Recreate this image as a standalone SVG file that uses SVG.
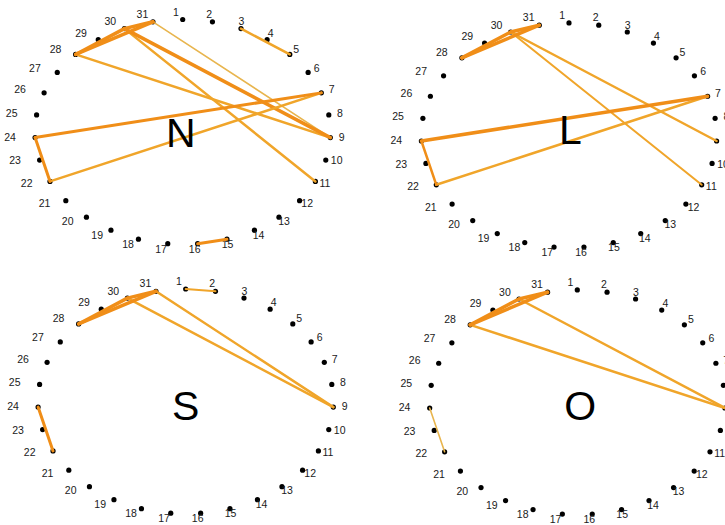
<svg xmlns="http://www.w3.org/2000/svg" width="725" height="525" viewBox="0 0 725 525">
<style>
circle{fill:#000}
text.l{font-family:"Liberation Sans",Arial,sans-serif;font-size:10.5px;text-anchor:middle;fill:#1a1a1a}
text.big{font-family:"Liberation Sans",Arial,sans-serif;font-size:41px;text-anchor:middle;fill:#000}
line{stroke-linecap:round;fill:none}
.t{stroke:#f08e18;stroke-width:3.5}
.m{stroke:#f0a52a;stroke-width:2.5}
.s{stroke:#e8b54e;stroke-width:1.6}
</style>
<rect width="725" height="525" fill="#fff"/>
<g id="nodes">
<g id="panel-N" transform="translate(182.7,131.9)">
<g id="N-1"><circle cx="0" cy="-112.4" r="2.6"/><text class="l" x="-6.9" y="-116.4">1</text></g>
<g id="N-2"><circle cx="29.75" cy="-110.1" r="2.6"/><text class="l" x="26.6" y="-114">2</text></g>
<g id="N-3"><circle cx="58.29" cy="-103.29" r="2.6"/><text class="l" x="58.7" y="-106.8">3</text></g>
<g id="N-4"><circle cx="84.43" cy="-92.25" r="2.6"/><text class="l" x="88" y="-95.1">4</text></g>
<g id="N-5"><circle cx="107.09" cy="-77.47" r="2.6"/><text class="l" x="113.5" y="-79.4">5</text></g>
<g id="N-6"><circle cx="125.43" cy="-59.46" r="2.6"/><text class="l" x="134.1" y="-60.4">6</text></g>
<g id="N-7"><circle cx="138.6" cy="-39.04" r="2.6"/><text class="l" x="148.9" y="-38.7">7</text></g>
<g id="N-8"><circle cx="146.1" cy="-17.02" r="2.6"/><text class="l" x="157.3" y="-15.4">8</text></g>
<g id="N-9"><circle cx="147.61" cy="5.69" r="2.6"/><text class="l" x="159" y="8.6">9</text></g>
<g id="N-10"><circle cx="143.08" cy="28.17" r="2.6"/><text class="l" x="154" y="32.4">10</text></g>
<g id="N-11"><circle cx="132.69" cy="49.5" r="2.6"/><text class="l" x="142.3" y="55">11</text></g>
<g id="N-12"><circle cx="116.88" cy="68.8" r="2.6"/><text class="l" x="124.5" y="75.4">12</text></g>
<g id="N-13"><circle cx="96.27" cy="85.28" r="2.6"/><text class="l" x="101.3" y="92.9">13</text></g>
<g id="N-14"><circle cx="71.73" cy="98.28" r="2.6"/><text class="l" x="75.8" y="106.7">14</text></g>
<g id="N-15"><circle cx="44.25" cy="107.25" r="2.6"/><text class="l" x="44.9" y="116.1">15</text></g>
<g id="N-16"><circle cx="14.95" cy="111.82" r="2.6"/><text class="l" x="12" y="121">16</text></g>
<g id="N-17"><circle cx="-14.95" cy="111.82" r="2.6"/><text class="l" x="-21.7" y="121">17</text></g>
<g id="N-18"><circle cx="-44.25" cy="107.25" r="2.6"/><text class="l" x="-54.6" y="116.1">18</text></g>
<g id="N-19"><circle cx="-71.73" cy="98.28" r="2.6"/><text class="l" x="-85.5" y="106.7">19</text></g>
<g id="N-20"><circle cx="-96.27" cy="85.28" r="2.6"/><text class="l" x="-115" y="92.9">20</text></g>
<g id="N-21"><circle cx="-116.88" cy="68.8" r="2.6"/><text class="l" x="-138.2" y="75.4">21</text></g>
<g id="N-22"><circle cx="-132.69" cy="49.5" r="2.6"/><text class="l" x="-156" y="55">22</text></g>
<g id="N-23"><circle cx="-143.08" cy="28.17" r="2.6"/><text class="l" x="-167.7" y="32.4">23</text></g>
<g id="N-24"><circle cx="-147.61" cy="5.69" r="2.6"/><text class="l" x="-172.7" y="8.6">24</text></g>
<g id="N-25"><circle cx="-146.1" cy="-17.02" r="2.6"/><text class="l" x="-171" y="-15.4">25</text></g>
<g id="N-26"><circle cx="-138.6" cy="-39.04" r="2.6"/><text class="l" x="-162.6" y="-38.7">26</text></g>
<g id="N-27"><circle cx="-125.43" cy="-59.46" r="2.6"/><text class="l" x="-147.8" y="-60.4">27</text></g>
<g id="N-28"><circle cx="-107.09" cy="-77.47" r="2.6"/><text class="l" x="-127.2" y="-79.4">28</text></g>
<g id="N-29"><circle cx="-84.43" cy="-92.25" r="2.6"/><text class="l" x="-101.7" y="-95.1">29</text></g>
<g id="N-30"><circle cx="-58.29" cy="-103.29" r="2.6"/><text class="l" x="-72.4" y="-106.8">30</text></g>
<g id="N-31"><circle cx="-29.75" cy="-110.1" r="2.6"/><text class="l" x="-40.3" y="-114">31</text></g>
</g>
<g id="panel-L" transform="translate(569,135.3)">
<g id="L-1"><circle cx="0" cy="-112.4" r="2.6"/><text class="l" x="-6.9" y="-116.4">1</text></g>
<g id="L-2"><circle cx="29.75" cy="-110.1" r="2.6"/><text class="l" x="26.6" y="-114">2</text></g>
<g id="L-3"><circle cx="58.29" cy="-103.29" r="2.6"/><text class="l" x="58.7" y="-106.8">3</text></g>
<g id="L-4"><circle cx="84.43" cy="-92.25" r="2.6"/><text class="l" x="88" y="-95.1">4</text></g>
<g id="L-5"><circle cx="107.09" cy="-77.47" r="2.6"/><text class="l" x="113.5" y="-79.4">5</text></g>
<g id="L-6"><circle cx="125.43" cy="-59.46" r="2.6"/><text class="l" x="134.1" y="-60.4">6</text></g>
<g id="L-7"><circle cx="138.6" cy="-39.04" r="2.6"/><text class="l" x="148.9" y="-38.7">7</text></g>
<g id="L-8"><circle cx="146.1" cy="-17.02" r="2.6"/><text class="l" x="157.3" y="-15.4">8</text></g>
<g id="L-9"><circle cx="147.61" cy="5.69" r="2.6"/><text class="l" x="159" y="8.6">9</text></g>
<g id="L-10"><circle cx="143.08" cy="28.17" r="2.6"/><text class="l" x="154" y="32.4">10</text></g>
<g id="L-11"><circle cx="132.69" cy="49.5" r="2.6"/><text class="l" x="142.3" y="55">11</text></g>
<g id="L-12"><circle cx="116.88" cy="68.8" r="2.6"/><text class="l" x="124.5" y="75.4">12</text></g>
<g id="L-13"><circle cx="96.27" cy="85.28" r="2.6"/><text class="l" x="101.3" y="92.9">13</text></g>
<g id="L-14"><circle cx="71.73" cy="98.28" r="2.6"/><text class="l" x="75.8" y="106.7">14</text></g>
<g id="L-15"><circle cx="44.25" cy="107.25" r="2.6"/><text class="l" x="44.9" y="116.1">15</text></g>
<g id="L-16"><circle cx="14.95" cy="111.82" r="2.6"/><text class="l" x="12" y="121">16</text></g>
<g id="L-17"><circle cx="-14.95" cy="111.82" r="2.6"/><text class="l" x="-21.7" y="121">17</text></g>
<g id="L-18"><circle cx="-44.25" cy="107.25" r="2.6"/><text class="l" x="-54.6" y="116.1">18</text></g>
<g id="L-19"><circle cx="-71.73" cy="98.28" r="2.6"/><text class="l" x="-85.5" y="106.7">19</text></g>
<g id="L-20"><circle cx="-96.27" cy="85.28" r="2.6"/><text class="l" x="-115" y="92.9">20</text></g>
<g id="L-21"><circle cx="-116.88" cy="68.8" r="2.6"/><text class="l" x="-138.2" y="75.4">21</text></g>
<g id="L-22"><circle cx="-132.69" cy="49.5" r="2.6"/><text class="l" x="-156" y="55">22</text></g>
<g id="L-23"><circle cx="-143.08" cy="28.17" r="2.6"/><text class="l" x="-167.7" y="32.4">23</text></g>
<g id="L-24"><circle cx="-147.61" cy="5.69" r="2.6"/><text class="l" x="-172.7" y="8.6">24</text></g>
<g id="L-25"><circle cx="-146.1" cy="-17.02" r="2.6"/><text class="l" x="-171" y="-15.4">25</text></g>
<g id="L-26"><circle cx="-138.6" cy="-39.04" r="2.6"/><text class="l" x="-162.6" y="-38.7">26</text></g>
<g id="L-27"><circle cx="-125.43" cy="-59.46" r="2.6"/><text class="l" x="-147.8" y="-60.4">27</text></g>
<g id="L-28"><circle cx="-107.09" cy="-77.47" r="2.6"/><text class="l" x="-127.2" y="-79.4">28</text></g>
<g id="L-29"><circle cx="-84.43" cy="-92.25" r="2.6"/><text class="l" x="-101.7" y="-95.1">29</text></g>
<g id="L-30"><circle cx="-58.29" cy="-103.29" r="2.6"/><text class="l" x="-72.4" y="-106.8">30</text></g>
<g id="L-31"><circle cx="-29.75" cy="-110.1" r="2.6"/><text class="l" x="-40.3" y="-114">31</text></g>
</g>
<g id="panel-S" transform="translate(185.7,401.4)">
<g id="S-1"><circle cx="0" cy="-112.4" r="2.6"/><text class="l" x="-6.9" y="-116.4">1</text></g>
<g id="S-2"><circle cx="29.75" cy="-110.1" r="2.6"/><text class="l" x="26.6" y="-114">2</text></g>
<g id="S-3"><circle cx="58.29" cy="-103.29" r="2.6"/><text class="l" x="58.7" y="-106.8">3</text></g>
<g id="S-4"><circle cx="84.43" cy="-92.25" r="2.6"/><text class="l" x="88" y="-95.1">4</text></g>
<g id="S-5"><circle cx="107.09" cy="-77.47" r="2.6"/><text class="l" x="113.5" y="-79.4">5</text></g>
<g id="S-6"><circle cx="125.43" cy="-59.46" r="2.6"/><text class="l" x="134.1" y="-60.4">6</text></g>
<g id="S-7"><circle cx="138.6" cy="-39.04" r="2.6"/><text class="l" x="148.9" y="-38.7">7</text></g>
<g id="S-8"><circle cx="146.1" cy="-17.02" r="2.6"/><text class="l" x="157.3" y="-15.4">8</text></g>
<g id="S-9"><circle cx="147.61" cy="5.69" r="2.6"/><text class="l" x="159" y="8.6">9</text></g>
<g id="S-10"><circle cx="143.08" cy="28.17" r="2.6"/><text class="l" x="154" y="32.4">10</text></g>
<g id="S-11"><circle cx="132.69" cy="49.5" r="2.6"/><text class="l" x="142.3" y="55">11</text></g>
<g id="S-12"><circle cx="116.88" cy="68.8" r="2.6"/><text class="l" x="124.5" y="75.4">12</text></g>
<g id="S-13"><circle cx="96.27" cy="85.28" r="2.6"/><text class="l" x="101.3" y="92.9">13</text></g>
<g id="S-14"><circle cx="71.73" cy="98.28" r="2.6"/><text class="l" x="75.8" y="106.7">14</text></g>
<g id="S-15"><circle cx="44.25" cy="107.25" r="2.6"/><text class="l" x="44.9" y="116.1">15</text></g>
<g id="S-16"><circle cx="14.95" cy="111.82" r="2.6"/><text class="l" x="12" y="121">16</text></g>
<g id="S-17"><circle cx="-14.95" cy="111.82" r="2.6"/><text class="l" x="-21.7" y="121">17</text></g>
<g id="S-18"><circle cx="-44.25" cy="107.25" r="2.6"/><text class="l" x="-54.6" y="116.1">18</text></g>
<g id="S-19"><circle cx="-71.73" cy="98.28" r="2.6"/><text class="l" x="-85.5" y="106.7">19</text></g>
<g id="S-20"><circle cx="-96.27" cy="85.28" r="2.6"/><text class="l" x="-115" y="92.9">20</text></g>
<g id="S-21"><circle cx="-116.88" cy="68.8" r="2.6"/><text class="l" x="-138.2" y="75.4">21</text></g>
<g id="S-22"><circle cx="-132.69" cy="49.5" r="2.6"/><text class="l" x="-156" y="55">22</text></g>
<g id="S-23"><circle cx="-143.08" cy="28.17" r="2.6"/><text class="l" x="-167.7" y="32.4">23</text></g>
<g id="S-24"><circle cx="-147.61" cy="5.69" r="2.6"/><text class="l" x="-172.7" y="8.6">24</text></g>
<g id="S-25"><circle cx="-146.1" cy="-17.02" r="2.6"/><text class="l" x="-171" y="-15.4">25</text></g>
<g id="S-26"><circle cx="-138.6" cy="-39.04" r="2.6"/><text class="l" x="-162.6" y="-38.7">26</text></g>
<g id="S-27"><circle cx="-125.43" cy="-59.46" r="2.6"/><text class="l" x="-147.8" y="-60.4">27</text></g>
<g id="S-28"><circle cx="-107.09" cy="-77.47" r="2.6"/><text class="l" x="-127.2" y="-79.4">28</text></g>
<g id="S-29"><circle cx="-84.43" cy="-92.25" r="2.6"/><text class="l" x="-101.7" y="-95.1">29</text></g>
<g id="S-30"><circle cx="-58.29" cy="-103.29" r="2.6"/><text class="l" x="-72.4" y="-106.8">30</text></g>
<g id="S-31"><circle cx="-29.75" cy="-110.1" r="2.6"/><text class="l" x="-40.3" y="-114">31</text></g>
</g>
<g id="panel-O" transform="translate(577.3,402.3)">
<g id="O-1"><circle cx="0" cy="-112.4" r="2.6"/><text class="l" x="-6.9" y="-116.4">1</text></g>
<g id="O-2"><circle cx="29.75" cy="-110.1" r="2.6"/><text class="l" x="26.6" y="-114">2</text></g>
<g id="O-3"><circle cx="58.29" cy="-103.29" r="2.6"/><text class="l" x="58.7" y="-106.8">3</text></g>
<g id="O-4"><circle cx="84.43" cy="-92.25" r="2.6"/><text class="l" x="88" y="-95.1">4</text></g>
<g id="O-5"><circle cx="107.09" cy="-77.47" r="2.6"/><text class="l" x="113.5" y="-79.4">5</text></g>
<g id="O-6"><circle cx="125.43" cy="-59.46" r="2.6"/><text class="l" x="134.1" y="-60.4">6</text></g>
<g id="O-7"><circle cx="138.6" cy="-39.04" r="2.6"/><text class="l" x="148.9" y="-38.7">7</text></g>
<g id="O-8"><circle cx="146.1" cy="-17.02" r="2.6"/><text class="l" x="157.3" y="-15.4">8</text></g>
<g id="O-9"><circle cx="147.61" cy="5.69" r="2.6"/><text class="l" x="159" y="8.6">9</text></g>
<g id="O-10"><circle cx="143.08" cy="28.17" r="2.6"/><text class="l" x="154" y="32.4">10</text></g>
<g id="O-11"><circle cx="132.69" cy="49.5" r="2.6"/><text class="l" x="142.3" y="55">11</text></g>
<g id="O-12"><circle cx="116.88" cy="68.8" r="2.6"/><text class="l" x="124.5" y="75.4">12</text></g>
<g id="O-13"><circle cx="96.27" cy="85.28" r="2.6"/><text class="l" x="101.3" y="92.9">13</text></g>
<g id="O-14"><circle cx="71.73" cy="98.28" r="2.6"/><text class="l" x="75.8" y="106.7">14</text></g>
<g id="O-15"><circle cx="44.25" cy="107.25" r="2.6"/><text class="l" x="44.9" y="116.1">15</text></g>
<g id="O-16"><circle cx="14.95" cy="111.82" r="2.6"/><text class="l" x="12" y="121">16</text></g>
<g id="O-17"><circle cx="-14.95" cy="111.82" r="2.6"/><text class="l" x="-21.7" y="121">17</text></g>
<g id="O-18"><circle cx="-44.25" cy="107.25" r="2.6"/><text class="l" x="-54.6" y="116.1">18</text></g>
<g id="O-19"><circle cx="-71.73" cy="98.28" r="2.6"/><text class="l" x="-85.5" y="106.7">19</text></g>
<g id="O-20"><circle cx="-96.27" cy="85.28" r="2.6"/><text class="l" x="-115" y="92.9">20</text></g>
<g id="O-21"><circle cx="-116.88" cy="68.8" r="2.6"/><text class="l" x="-138.2" y="75.4">21</text></g>
<g id="O-22"><circle cx="-132.69" cy="49.5" r="2.6"/><text class="l" x="-156" y="55">22</text></g>
<g id="O-23"><circle cx="-143.08" cy="28.17" r="2.6"/><text class="l" x="-167.7" y="32.4">23</text></g>
<g id="O-24"><circle cx="-147.61" cy="5.69" r="2.6"/><text class="l" x="-172.7" y="8.6">24</text></g>
<g id="O-25"><circle cx="-146.1" cy="-17.02" r="2.6"/><text class="l" x="-171" y="-15.4">25</text></g>
<g id="O-26"><circle cx="-138.6" cy="-39.04" r="2.6"/><text class="l" x="-162.6" y="-38.7">26</text></g>
<g id="O-27"><circle cx="-125.43" cy="-59.46" r="2.6"/><text class="l" x="-147.8" y="-60.4">27</text></g>
<g id="O-28"><circle cx="-107.09" cy="-77.47" r="2.6"/><text class="l" x="-127.2" y="-79.4">28</text></g>
<g id="O-29"><circle cx="-84.43" cy="-92.25" r="2.6"/><text class="l" x="-101.7" y="-95.1">29</text></g>
<g id="O-30"><circle cx="-58.29" cy="-103.29" r="2.6"/><text class="l" x="-72.4" y="-106.8">30</text></g>
<g id="O-31"><circle cx="-29.75" cy="-110.1" r="2.6"/><text class="l" x="-40.3" y="-114">31</text></g>
</g>
</g>
<g id="connectors">
<g id="edges-N" transform="translate(182.7,131.9)">
<line class="s" x1="-29.75" y1="-110.1" x2="147.61" y2="5.69"/>
<line class="m" x1="-107.09" y1="-77.47" x2="147.61" y2="5.69"/>
<line class="m" x1="-58.29" y1="-103.29" x2="132.69" y2="49.5"/>
<line class="t" x1="-58.29" y1="-103.29" x2="147.61" y2="5.69"/>
<line class="t" x1="-107.09" y1="-77.47" x2="-58.29" y2="-103.29"/>
<line class="t" x1="-107.09" y1="-77.47" x2="-29.75" y2="-110.1"/>
<line class="t" x1="-58.29" y1="-103.29" x2="-29.75" y2="-110.1"/>
<line class="m" x1="58.29" y1="-103.29" x2="107.09" y2="-77.47"/>
<line class="m" x1="138.6" y1="-39.04" x2="-132.69" y2="49.5"/>
<line class="t" x1="138.6" y1="-39.04" x2="-147.61" y2="5.69" style="stroke-width:3"/>
<line class="t" x1="-147.61" y1="5.69" x2="-132.69" y2="49.5" style="stroke-width:3"/>
<line class="t" x1="44.25" y1="107.25" x2="14.95" y2="111.82" style="stroke-width:3"/>
</g>
<g id="edges-L" transform="translate(569,135.3)">
<line class="m" x1="-58.29" y1="-103.29" x2="147.61" y2="5.69"/>
<line class="m" x1="-58.29" y1="-103.29" x2="132.69" y2="49.5" style="stroke-width:2"/>
<line class="t" x1="-107.09" y1="-77.47" x2="-58.29" y2="-103.29"/>
<line class="t" x1="-107.09" y1="-77.47" x2="-29.75" y2="-110.1"/>
<line class="t" x1="-58.29" y1="-103.29" x2="-29.75" y2="-110.1"/>
<line class="m" x1="138.6" y1="-39.04" x2="-132.69" y2="49.5"/>
<line class="t" x1="138.6" y1="-39.04" x2="-147.61" y2="5.69"/>
<line class="t" x1="-147.61" y1="5.69" x2="-132.69" y2="49.5" style="stroke-width:2.5"/>
</g>
<g id="edges-S" transform="translate(185.7,401.4)">
<line class="m" x1="-29.75" y1="-110.1" x2="147.61" y2="5.69"/>
<line class="m" x1="-58.29" y1="-103.29" x2="147.61" y2="5.69"/>
<line class="t" x1="-107.09" y1="-77.47" x2="-58.29" y2="-103.29"/>
<line class="t" x1="-107.09" y1="-77.47" x2="-29.75" y2="-110.1"/>
<line class="t" x1="-58.29" y1="-103.29" x2="-29.75" y2="-110.1"/>
<line class="m" x1="0" y1="-112.4" x2="29.75" y2="-110.1" style="stroke-width:2"/>
<line class="t" x1="-147.61" y1="5.69" x2="-132.69" y2="49.5" style="stroke-width:3"/>
</g>
<g id="edges-O" transform="translate(577.3,402.3)">
<line class="m" x1="-58.29" y1="-103.29" x2="147.61" y2="5.69"/>
<line class="m" x1="-107.09" y1="-77.47" x2="147.61" y2="5.69"/>
<line class="t" x1="-107.09" y1="-77.47" x2="-58.29" y2="-103.29"/>
<line class="t" x1="-107.09" y1="-77.47" x2="-29.75" y2="-110.1"/>
<line class="t" x1="-58.29" y1="-103.29" x2="-29.75" y2="-110.1"/>
<line class="s" x1="-147.61" y1="5.69" x2="-132.69" y2="49.5"/>
</g>
</g>
<g id="letters">
<text class="big" x="180.8" y="147">N</text>
<text class="big" x="570.5" y="144">L</text>
<text class="big" x="185.8" y="419.5">S</text>
<text class="big" x="580.3" y="420">O</text>
</g>
</svg>
